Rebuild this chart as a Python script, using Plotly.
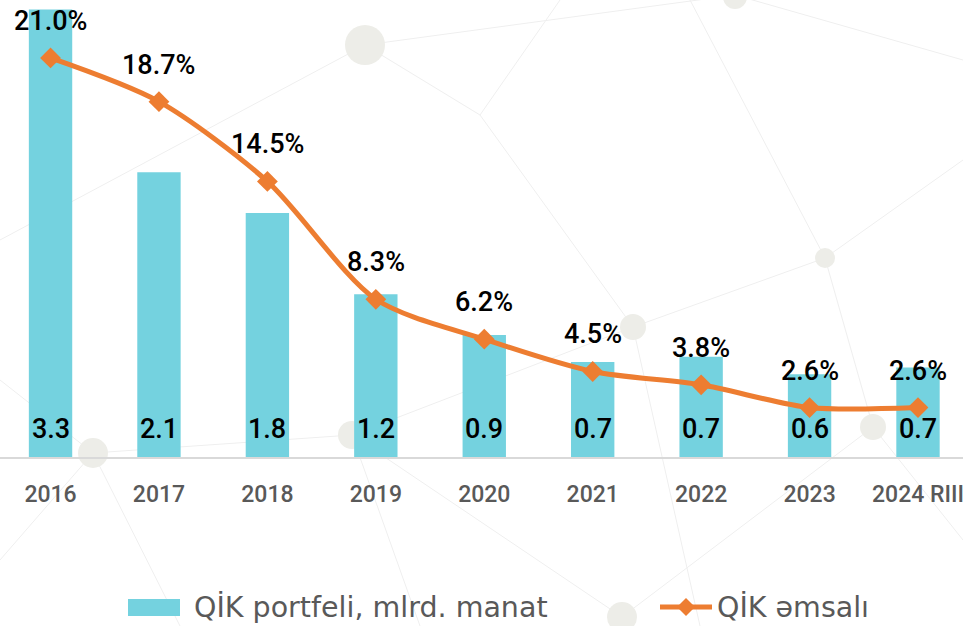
import plotly.graph_objects as go

# ---- data ----
years = ["2016", "2017", "2018", "2019", "2020", "2021", "2022", "2023", "2024 RIII"]
portfolio = [3.3, 2.1, 1.8, 1.2, 0.9, 0.7, 0.74, 0.61, 0.66]        # QİK portfeli, mlrd. manat
portfolio_labels = ["3.3", "2.1", "1.8", "1.2", "0.9", "0.7", "0.7", "0.6", "0.7"]
ratio = [21.0, 18.7, 14.5, 8.3, 6.2, 4.5, 3.8, 2.6, 2.6]            # QİK əmsalı, %
bar_name = "QİK portfeli, mlrd. manat"
line_name = "QİK əmsalı"

BAR_COLOR = "#74D2DF"
LINE_COLOR = "#ED7D31"
FONT = "Roboto, 'DejaVu Sans', sans-serif"
LEG_FONT = "'DejaVu Sans', Roboto, sans-serif"

W, H = 963, 626
AXIS_Y = 457  # pixel row of the x-axis line


def px(x):
    return x / W


def py(y):
    return (AXIS_Y - y) / AXIS_Y


fig = go.Figure()
fig.add_trace(go.Bar(
    x=years, y=portfolio, name=bar_name, marker=dict(color=BAR_COLOR, line=dict(width=0)),
    yaxis="y", showlegend=False, hoverinfo="skip"))
fig.add_trace(go.Scatter(
    x=years, y=ratio, name=line_name, mode="lines+markers", yaxis="y2",
    line=dict(color=LINE_COLOR, width=5, shape="spline", smoothing=0.8),
    marker=dict(symbol="diamond", size=16, color=LINE_COLOR),
    showlegend=False, hoverinfo="skip"))

annotations = []
for i, lab in enumerate(portfolio_labels):
    annotations.append(dict(x=i, y=0, yref="y", xref="x", text=lab, showarrow=False,
                            yanchor="bottom", yshift=10,
                            font=dict(family=FONT, size=27, color="#000000", weight=500)))
for i, v in enumerate(ratio):
    annotations.append(dict(x=i, y=v, yref="y2", xref="x", text=f"{v:.1f}%", showarrow=False,
                            yanchor="bottom", yshift=19,
                            font=dict(family=FONT, size=27, color="#000000", weight=500)))

# custom legend
annotations.append(dict(x=px(192), y=py(607), xref="paper", yref="paper", text=bar_name,
                        showarrow=False, xanchor="left", yanchor="middle",
                        font=dict(family=LEG_FONT, size=28.5, color="#595959")))
annotations.append(dict(x=px(715), y=py(607), xref="paper", yref="paper", text=line_name,
                        showarrow=False, xanchor="left", yanchor="middle",
                        font=dict(family=LEG_FONT, size=28.5, color="#595959")))

shapes = []
# faint background network decoration
bg_lines = [((365, 45), (735, -5)), ((365, 45), (0, 240)), ((365, 45), (480, 115)),
            ((480, 115), (633, 327)), ((633, 327), (825, 258)), ((825, 258), (963, 160)),
            ((825, 258), (873, 427)), ((873, 427), (963, 540)), ((93, 453), (0, 380)),
            ((93, 453), (352, 435)), ((352, 435), (633, 327)), ((93, 453), (180, 626)),
            ((622, 617), (352, 435)), ((622, 617), (873, 427)), ((735, -5), (963, 60)),
            ((480, 115), (560, 0)), ((0, 560), (93, 453)), ((352, 435), (420, 626)),
            ((633, 327), (700, 626)), ((825, 258), (690, 0))]
for (x0, y0), (x1, y1) in bg_lines:
    shapes.append(dict(type="line", xref="paper", yref="paper", x0=px(x0), y0=py(y0),
                       x1=px(x1), y1=py(y1), line=dict(color="#EFEFEF", width=1), layer="below"))
bg_nodes = [(365, 45, 20), (735, -3, 12), (93, 453, 15), (825, 258, 10), (873, 427, 13),
            (622, 617, 15), (352, 435, 14), (633, 327, 13)]
for cx, cy, r in bg_nodes:
    shapes.append(dict(type="circle", xref="paper", yref="paper", x0=px(cx - r), x1=px(cx + r),
                       y0=py(cy - r), y1=py(cy + r), fillcolor="#EDEDE8",
                       line=dict(width=0), layer="below"))

# legend symbols
shapes.append(dict(type="rect", xref="paper", yref="paper", x0=px(128), x1=px(180),
                   y0=py(599), y1=py(616), fillcolor=BAR_COLOR, line=dict(width=0)))
shapes.append(dict(type="line", xref="paper", yref="paper", x0=px(660), x1=px(712),
                   y0=py(607), y1=py(607), line=dict(color=LINE_COLOR, width=5)))
dcx, dcy, dr = 686, 607, 9
shapes.append(dict(type="path", xref="paper", yref="paper",
                   path=f"M {px(dcx - dr)} {py(dcy)} L {px(dcx)} {py(dcy - dr)} "
                        f"L {px(dcx + dr)} {py(dcy)} L {px(dcx)} {py(dcy + dr)} Z",
                   fillcolor=LINE_COLOR, line=dict(width=0)))

fig.update_layout(
    width=W, height=H,
    margin=dict(l=0, r=0, t=0, b=H - AXIS_Y, pad=0),
    paper_bgcolor="white", plot_bgcolor="rgba(0,0,0,0)",
    bargap=0.6,
    showlegend=False,
    xaxis=dict(type="category", range=[-0.466, 8.415], showgrid=False, zeroline=False,
               showline=True, linecolor="#D9D9D9", linewidth=2, ticks="",
               tickfont=dict(family=FONT, size=23, color="#595959", weight=500),
               ticklabelstandoff=15, ticklabeloverflow="allow"),
    yaxis=dict(range=[0, 3.37], visible=False, showgrid=False, zeroline=False),
    yaxis2=dict(range=[0, 24.05], overlaying="y", side="right", visible=False,
                showgrid=False, zeroline=False),
    annotations=annotations,
    shapes=shapes,
)

fig.write_html("out.html", config={"displayModeBar": False},
               post_script="document.body.style.margin='0';document.body.style.overflow='hidden';")
